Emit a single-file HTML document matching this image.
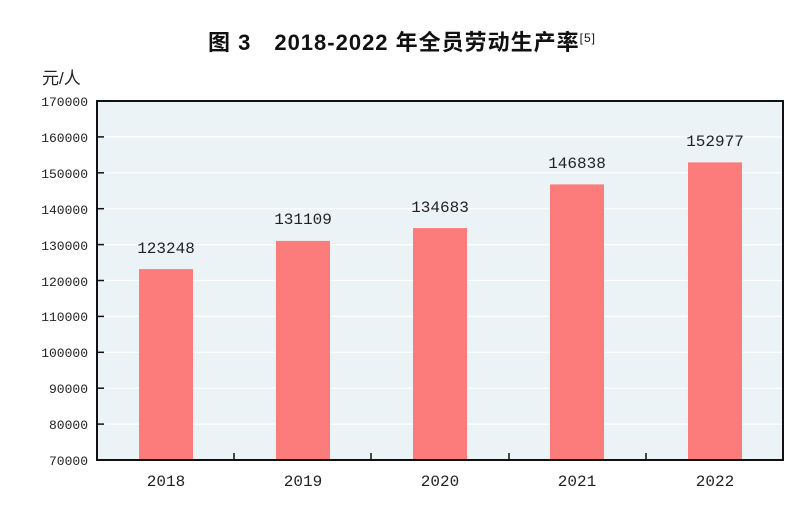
<!DOCTYPE html>
<html><head><meta charset="utf-8"><style>body{margin:0;background:#fff}</style></head><body>
<svg width="800" height="515" xmlns="http://www.w3.org/2000/svg" font-family="'Liberation Mono','Noto Sans CJK SC',monospace">
<text x="402" y="50" text-anchor="middle" font-size="22" font-weight="bold" letter-spacing="1" font-family="'Liberation Sans','Noto Sans CJK SC',sans-serif" fill="#111">图 3　2018-2022 年全员劳动生产率<tspan font-size="12" font-weight="normal" dy="-8">[5]</tspan></text>
<text x="42" y="84" font-size="17" font-family="'Liberation Sans','Noto Sans CJK SC',sans-serif" fill="#222">元/人</text>
<rect x="97" y="101" width="686" height="359" fill="#ebf3f7"/>
<g stroke="#fff" stroke-width="1.2">
<line x1="97" x2="783" y1="136.9" y2="136.9"/><line x1="97" x2="783" y1="172.8" y2="172.8"/><line x1="97" x2="783" y1="208.7" y2="208.7"/><line x1="97" x2="783" y1="244.6" y2="244.6"/><line x1="97" x2="783" y1="280.5" y2="280.5"/><line x1="97" x2="783" y1="316.4" y2="316.4"/><line x1="97" x2="783" y1="352.3" y2="352.3"/><line x1="97" x2="783" y1="388.2" y2="388.2"/><line x1="97" x2="783" y1="424.1" y2="424.1"/>
</g>
<g fill="#fc7b7b">
<rect x="139" y="269.1" width="54" height="190.9"/>
<rect x="276" y="240.9" width="54" height="219.1"/>
<rect x="413" y="228.1" width="54" height="231.9"/>
<rect x="550" y="184.4" width="54" height="275.6"/>
<rect x="688" y="162.4" width="54" height="297.6"/>
</g>
<g stroke="#111" stroke-width="2" fill="none">
<rect x="97" y="101" width="686" height="359"/>
</g>
<g stroke="#111" stroke-width="1.5">
<line x1="97" x2="104" y1="136.9" y2="136.9"/><line x1="97" x2="104" y1="172.8" y2="172.8"/><line x1="97" x2="104" y1="208.7" y2="208.7"/><line x1="97" x2="104" y1="244.6" y2="244.6"/><line x1="97" x2="104" y1="280.5" y2="280.5"/><line x1="97" x2="104" y1="316.4" y2="316.4"/><line x1="97" x2="104" y1="352.3" y2="352.3"/><line x1="97" x2="104" y1="388.2" y2="388.2"/><line x1="97" x2="104" y1="424.1" y2="424.1"/>
<line x1="234" x2="234" y1="453" y2="460"/><line x1="371" x2="371" y1="453" y2="460"/><line x1="509" x2="509" y1="453" y2="460"/><line x1="646" x2="646" y1="453" y2="460"/>
</g>
<g font-size="13" fill="#222" text-anchor="end">
<text x="88" y="106">170000</text><text x="88" y="142">160000</text><text x="88" y="178">150000</text><text x="88" y="214">140000</text><text x="88" y="250">130000</text><text x="88" y="286">120000</text><text x="88" y="321">110000</text><text x="88" y="357">100000</text><text x="88" y="393">90000</text><text x="88" y="429">80000</text><text x="88" y="465">70000</text>
</g>
<g font-size="16" fill="#222" text-anchor="middle">
<text x="166" y="486">2018</text><text x="303" y="486">2019</text><text x="440" y="486">2020</text><text x="577" y="486">2021</text><text x="715" y="486">2022</text>
<text x="166" y="253">123248</text><text x="303" y="224">131109</text><text x="440" y="212">134683</text><text x="577" y="168">146838</text><text x="715" y="146">152977</text>
</g>
</svg>
</body></html>
